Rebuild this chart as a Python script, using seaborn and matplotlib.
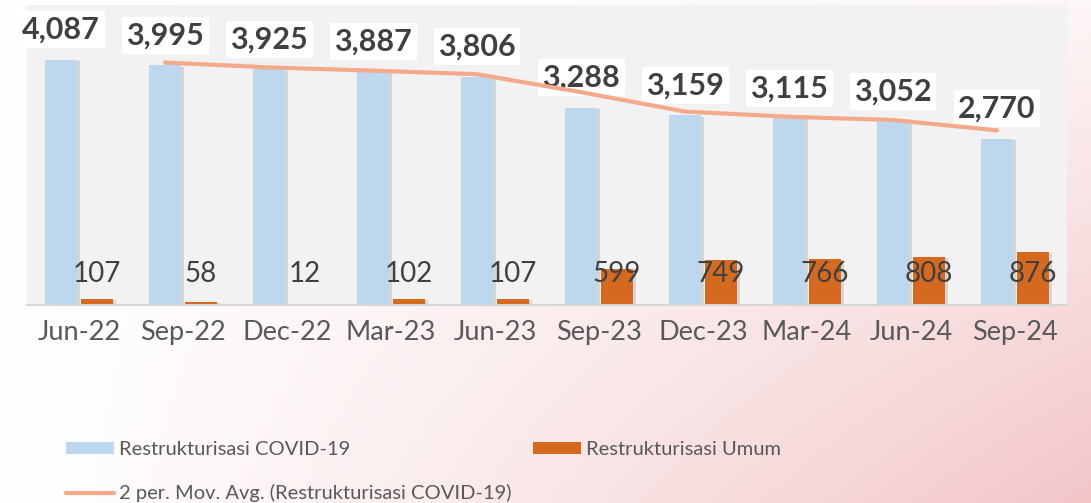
import numpy as np
import pandas as pd
import matplotlib.pyplot as plt
import matplotlib.patheffects as pe
from matplotlib.patches import Patch
from matplotlib.lines import Line2D
import seaborn as sns

# data
periods = ["Jun-22", "Sep-22", "Dec-22", "Mar-23", "Jun-23",
           "Sep-23", "Dec-23", "Mar-24", "Jun-24", "Sep-24"]
covid = [4087, 3995, 3925, 3887, 3806, 3288, 3159, 3115, 3052, 2770]
umum = [107, 58, 12, 102, 107, 599, 749, 766, 808, 876]
# 2-period moving average of covid (Sep-22 .. Sep-24)
ma_covid = [4041, 3960, 3906, 3846.5, 3547, 3223.5, 3137, 3083.5, 2911]

lbl_covid = "Restrukturisasi COVID-19"
lbl_umum = "Restrukturisasi Umum"
lbl_ma = "2 per. Mov. Avg. (Restrukturisasi COVID-19)"

c_blue = "#bdd7ee"
c_orange = "#d5691f"
c_line = "#f4a98a"
c_text = "#404040"

df = pd.DataFrame({
    "period": periods * 2,
    "value": covid + umum,
    "series": [lbl_covid] * len(periods) + [lbl_umum] * len(periods),
})

sns.set_theme(style="white")
plt.rcParams["font.family"] = ["Lato", "DejaVu Sans"]

fig = plt.figure(figsize=(10.91, 5.03), dpi=100)

# soft white -> pink background
W, H = 400, 200
xx, yy = np.meshgrid(np.linspace(0, 1, W), np.linspace(0, 1, H))
t = np.clip(xx ** 1.2 * (0.15 + 0.85 * yy), 0, 1)
c0 = np.array([1.0, 1.0, 1.0])
c1 = np.array([243, 198, 200]) / 255
img = c0 + (c1 - c0) * t[..., None]
bg = fig.add_axes([0, 0, 1, 1], zorder=-10)
bg.imshow(img, aspect="auto", origin="upper", extent=[0, 1, 0, 1])
bg.axis("off")

ax = fig.add_axes([27 / 1091, 198 / 503, 1040 / 1091, 300 / 503])
ax.set_facecolor("#f2f2f2")

sns.barplot(data=df, x="period", y="value", hue="series",
            palette=[c_blue, c_orange], saturation=1, width=0.69, gap=0.1,
            linewidth=0, legend=False, ax=ax, zorder=2)

for p in ax.patches:
    p.set_path_effects([pe.withSimplePatchShadow(offset=(2, -1), alpha=0.25, shadow_rgbFace="#808080"),
                        pe.Normal()])

off = 0.69 / 4
x = np.arange(len(periods))

# moving average line
ax.plot(x[1:] - off, ma_covid, color=c_line, lw=3, zorder=6, solid_capstyle="round")

for i, v in enumerate(covid):
    ax.text(x[i] - off, v + 500, f"{v:,}", ha="center", va="center",
            fontsize=22, fontweight="bold", color=c_text, zorder=5,
            bbox=dict(boxstyle="square,pad=0.15", fc="white", ec="none"))
for i, v in enumerate(umum):
    ax.text(x[i] + off, 510, f"{v:,}", ha="center", va="center",
            fontsize=20, color=c_text, zorder=7)

ax.set_xlim(-0.5, len(periods) - 0.5)
ax.set_ylim(0, 5000)
ax.set_xlabel("")
ax.set_ylabel("")
ax.set_yticks([])
ax.tick_params(axis="x", length=0, pad=11, labelsize=19.5, labelcolor="#595959")
for s in ["top", "right", "left"]:
    ax.spines[s].set_visible(False)
ax.spines["bottom"].set_color("#d6d6d6")
ax.spines["bottom"].set_linewidth(1.5)

# legends (two blocks as in the reference)
h_covid = Patch(facecolor=c_blue, edgecolor="none")
h_umum = Patch(facecolor=c_orange, edgecolor="none")
h_ma = Line2D([0], [0], color=c_line, lw=3)
leg_kw = dict(frameon=False, fontsize=14.5, labelcolor="#595959",
              handlelength=2.4, handleheight=0.55, handletextpad=0.25,
              borderpad=0, borderaxespad=0, labelspacing=1.3, loc="upper left")
fig.legend([h_covid, h_ma], [lbl_covid, lbl_ma],
           bbox_to_anchor=(66 / 1091, 1 - 441 / 503), **leg_kw)
fig.legend([h_umum], [lbl_umum],
           bbox_to_anchor=(533 / 1091, 1 - 441 / 503), **leg_kw)

fig.savefig("out.png", dpi=100)
